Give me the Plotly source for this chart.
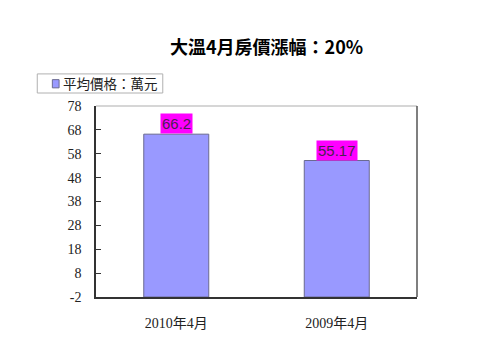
import plotly.graph_objects as go

categories = ["2010年4月", "2009年4月"]
values = [66.2, 55.17]
value_labels = ["66.2", "55.17"]
tick_vals = [-2, 8, 18, 28, 38, 48, 58, 68, 78]
tick_text = ["-2", "8", "18", "28", "38", "48", "58", "68", "78"]
series_name = "平均價格：萬元"
title_text = "大溫4月房價漲幅：20%"
axis_min = -2

fig = go.Figure()
fig.add_trace(go.Bar(
    x=categories, y=[v - axis_min for v in values], base=axis_min, name=series_name,
    marker=dict(color="#9999FF", line=dict(color="#6a6a90", width=1)),
    width=0.405, showlegend=False, hoverinfo="skip",
))

for c, v, t in zip(categories, values, value_labels):
    fig.add_annotation(x=c, y=v, text=t, showarrow=False, yanchor="bottom",
                       yshift=0, bgcolor="#FF00FF", borderpad=1,
                       font=dict(family="Arial, Liberation Sans, sans-serif", size=15, color="#4a2050"))

# title
fig.add_annotation(xref="paper", yref="paper", x=0.53, y=1.0, yshift=60, text="<b>" + title_text + "</b>",
                   showarrow=False, xanchor="center", yanchor="middle",
                   font=dict(family="Noto Sans CJK TC, sans-serif", size=18, color="#000000"))

# legend box (drawn as shapes/annotation in paper coords)
fig.add_shape(type="rect", xref="paper", yref="paper", x0=-0.183, x1=0.208, y0=1.068, y1=1.168,
              line=dict(color="#b0b0b0", width=1), fillcolor="white", layer="above")
fig.add_shape(type="rect", xref="paper", yref="paper", x0=-0.136, x1=-0.115, y0=1.095, y1=1.138,
              line=dict(color="#6a6a90", width=1), fillcolor="#9999FF", layer="above")
fig.add_annotation(xref="paper", yref="paper", x=-0.108, y=1.118, text=series_name, showarrow=False,
                   xanchor="left", yanchor="middle",
                   font=dict(family="Noto Sans CJK TC, sans-serif", size=13.5, color="#222222"))

fig.update_layout(
    width=480, height=360,
    margin=dict(l=96, r=63, t=106, b=63),
    paper_bgcolor="white", plot_bgcolor="white",
    xaxis=dict(showline=True, linecolor="#333333", linewidth=1.5, mirror=False,
               ticks="", showgrid=False, ticklabelstandoff=12,
               tickfont=dict(family="Liberation Serif, Noto Sans CJK TC, serif", size=14, color="#222222")),
    yaxis=dict(range=[-2, 78], tickvals=tick_vals, ticktext=tick_text, showgrid=False, showline=True,
               linecolor="#333333", linewidth=1.5, ticks="inside", ticklen=5, tickcolor="#333333",
               zeroline=False, ticklabelstandoff=10,
               tickfont=dict(family="Liberation Serif, serif", size=14, color="#222222")),
)
# top and right borders
fig.add_shape(type="line", xref="paper", yref="paper", x0=0, x1=1, y0=1, y1=1,
              line=dict(color="#c8c8c8", width=1.5))
fig.add_shape(type="line", xref="paper", yref="paper", x0=1, x1=1, y0=0, y1=1,
              line=dict(color="#555555", width=1.5))

fig.write_html("out.html")
